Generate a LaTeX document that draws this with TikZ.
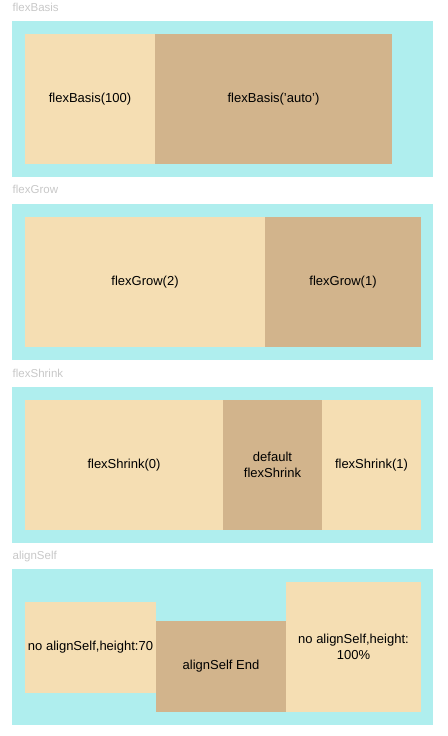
\documentclass[tikz,border=0pt]{standalone}
\usepackage{fontspec}
\setmainfont{Liberation Sans}
\usepackage{xcolor}
\definecolor{pale-cyan}{RGB}{175,238,238}
\definecolor{light-wheat}{RGB}{245,222,179}
\definecolor{mid-tan}{RGB}{210,180,140}
\definecolor{title-grey}{RGB}{200,200,200}

\begin{document}
\begin{tikzpicture}[x=1pt,y=-1pt,
	panel/.style={anchor=north west,fill=pale-cyan,inner sep=0pt,outer sep=0pt,
		minimum width=421pt,minimum height=156pt},
	item/.style={anchor=north west,inner sep=0pt,outer sep=0pt,align=center,
		font=\fontsize{13}{15.5}\selectfont},
	title/.style={anchor=base west,inner sep=0pt,text=title-grey,
		font=\fontsize{11.5}{13}\selectfont}]
	\useasboundingbox (0,0) rectangle (447,736);

	\node[title] (basisTitle) at (12.5,11) {flexBasis};
	\node[panel] (basisPanel) at (12,21) {};
	\node[item,fill=light-wheat,minimum width=130pt,minimum height=130pt]
		(basisA) at (25,34) {flexBasis(100)};
	\node[item,fill=mid-tan,minimum width=237pt,minimum height=130pt]
		(basisB) at (155,34) {flexBasis('auto')};

	\node[title] (growTitle) at (12.5,193.5) {flexGrow};
	\node[panel] (growPanel) at (12,204) {};
	\node[item,fill=light-wheat,minimum width=240pt,minimum height=130pt]
		(growA) at (25,217) {flexGrow(2)};
	\node[item,fill=mid-tan,minimum width=156pt,minimum height=130pt]
		(growB) at (265,217) {flexGrow(1)};

	\node[title] (shrinkTitle) at (12.5,377) {flexShrink};
	\node[panel] (shrinkPanel) at (12,387) {};
	\node[item,fill=light-wheat,minimum width=198pt,minimum height=130pt]
		(shrinkA) at (25,400) {flexShrink(0)};
	\node[item,fill=mid-tan,minimum width=99pt,minimum height=130pt]
		(shrinkB) at (223,400) {default\\flexShrink};
	\node[item,fill=light-wheat,minimum width=99pt,minimum height=130pt]
		(shrinkC) at (322,400) {flexShrink(1)};

	\node[title] (alignTitle) at (12.5,559.5) {alignSelf};
	\node[panel] (alignPanel) at (12,569) {};
	\node[item,fill=light-wheat,minimum width=131pt,minimum height=91pt]
		(alignA) at (25,602) {no alignSelf,height:70};
	\node[item,fill=mid-tan,minimum width=130pt,minimum height=91pt]
		(alignB) at (156,621) {alignSelf End};
	\node[item,fill=light-wheat,minimum width=135pt,minimum height=130pt]
		(alignC) at (286,582) {no alignSelf,height:\\100\%};
\end{tikzpicture}
\end{document}
